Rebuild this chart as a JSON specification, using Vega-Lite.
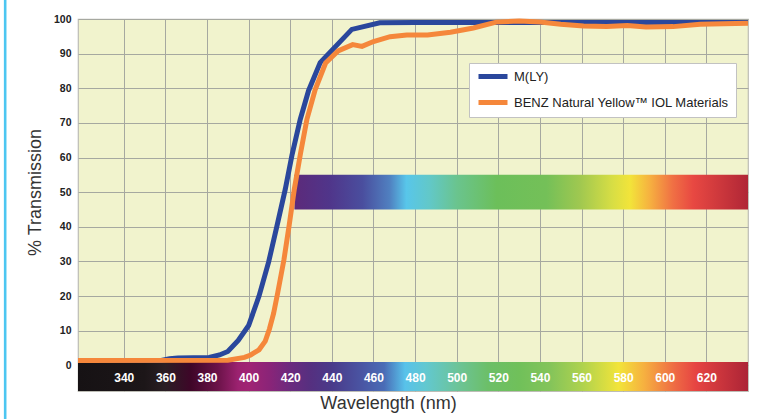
{
  "$schema": "https://vega.github.io/schema/vega-lite/v6.json",
  "width": 670,
  "height": 372,
  "autosize": {"type": "none"},
  "padding": {"left": 78, "top": 19, "right": 17, "bottom": 28},
  "background": "white",
  "config": {
    "font": "Liberation Sans",
    "view": {"fill": "#f1f3cd", "stroke": "#bdbdb5", "strokeWidth": 1.2},
    "axisY": {
      "values": [0, 10, 20, 30, 40, 50, 60, 70, 80, 90, 100],
      "grid": true, "gridColor": "#a6a8a0", "gridWidth": 1,
      "domain": false, "ticks": false,
      "labelFontWeight": "bold", "labelFontSize": 10.5, "labelColor": "#222222",
      "labelPadding": 7, "labelFlush": false,
      "titleFontSize": 18, "titleFontWeight": "normal",
      "titleColor": "#333333", "titleX": -43, "titleY": 173, "titleAngle": -90,
      "titleBaseline": "middle", "titleAlign": "center",
      "zindex": 0
    }
  },
  "datasets": {
    "curves": [
      {"series": "M(LY)", "wl": 318, "T": 1.4},
      {"series": "M(LY)", "wl": 358, "T": 1.4},
      {"series": "M(LY)", "wl": 362, "T": 1.9},
      {"series": "M(LY)", "wl": 366, "T": 2.1},
      {"series": "M(LY)", "wl": 381, "T": 2.3},
      {"series": "M(LY)", "wl": 386, "T": 3.0},
      {"series": "M(LY)", "wl": 390, "T": 4.0},
      {"series": "M(LY)", "wl": 395, "T": 7.2},
      {"series": "M(LY)", "wl": 400, "T": 11.5},
      {"series": "M(LY)", "wl": 405, "T": 20},
      {"series": "M(LY)", "wl": 409.6, "T": 29.8},
      {"series": "M(LY)", "wl": 413.6, "T": 40.2},
      {"series": "M(LY)", "wl": 417.6, "T": 50.8},
      {"series": "M(LY)", "wl": 420.8, "T": 60.6},
      {"series": "M(LY)", "wl": 424.8, "T": 71},
      {"series": "M(LY)", "wl": 428.8, "T": 79.3},
      {"series": "M(LY)", "wl": 434.4, "T": 87.4},
      {"series": "M(LY)", "wl": 449.6, "T": 97},
      {"series": "M(LY)", "wl": 463, "T": 98.9},
      {"series": "M(LY)", "wl": 480, "T": 99},
      {"series": "M(LY)", "wl": 640, "T": 99},
      {"series": "BENZ Natural Yellow™ IOL Materials", "wl": 318, "T": 1.4},
      {"series": "BENZ Natural Yellow™ IOL Materials", "wl": 390, "T": 1.5},
      {"series": "BENZ Natural Yellow™ IOL Materials", "wl": 398, "T": 2.3},
      {"series": "BENZ Natural Yellow™ IOL Materials", "wl": 401, "T": 3},
      {"series": "BENZ Natural Yellow™ IOL Materials", "wl": 405, "T": 4.5},
      {"series": "BENZ Natural Yellow™ IOL Materials", "wl": 408, "T": 7},
      {"series": "BENZ Natural Yellow™ IOL Materials", "wl": 410, "T": 10.5},
      {"series": "BENZ Natural Yellow™ IOL Materials", "wl": 412, "T": 15},
      {"series": "BENZ Natural Yellow™ IOL Materials", "wl": 414, "T": 21},
      {"series": "BENZ Natural Yellow™ IOL Materials", "wl": 417, "T": 30.6},
      {"series": "BENZ Natural Yellow™ IOL Materials", "wl": 419.5, "T": 40.5},
      {"series": "BENZ Natural Yellow™ IOL Materials", "wl": 422, "T": 51},
      {"series": "BENZ Natural Yellow™ IOL Materials", "wl": 425, "T": 61.4},
      {"series": "BENZ Natural Yellow™ IOL Materials", "wl": 428, "T": 71},
      {"series": "BENZ Natural Yellow™ IOL Materials", "wl": 432, "T": 79.6},
      {"series": "BENZ Natural Yellow™ IOL Materials", "wl": 437, "T": 87.3},
      {"series": "BENZ Natural Yellow™ IOL Materials", "wl": 443, "T": 90.8},
      {"series": "BENZ Natural Yellow™ IOL Materials", "wl": 450, "T": 92.6},
      {"series": "BENZ Natural Yellow™ IOL Materials", "wl": 454.5, "T": 92.1},
      {"series": "BENZ Natural Yellow™ IOL Materials", "wl": 460, "T": 93.5},
      {"series": "BENZ Natural Yellow™ IOL Materials", "wl": 468, "T": 94.9},
      {"series": "BENZ Natural Yellow™ IOL Materials", "wl": 476, "T": 95.4},
      {"series": "BENZ Natural Yellow™ IOL Materials", "wl": 486, "T": 95.4},
      {"series": "BENZ Natural Yellow™ IOL Materials", "wl": 497, "T": 96.2},
      {"series": "BENZ Natural Yellow™ IOL Materials", "wl": 508, "T": 97.4},
      {"series": "BENZ Natural Yellow™ IOL Materials", "wl": 519, "T": 99.1},
      {"series": "BENZ Natural Yellow™ IOL Materials", "wl": 530, "T": 99.4},
      {"series": "BENZ Natural Yellow™ IOL Materials", "wl": 540, "T": 99.1},
      {"series": "BENZ Natural Yellow™ IOL Materials", "wl": 550, "T": 98.5},
      {"series": "BENZ Natural Yellow™ IOL Materials", "wl": 561, "T": 98},
      {"series": "BENZ Natural Yellow™ IOL Materials", "wl": 572, "T": 97.8},
      {"series": "BENZ Natural Yellow™ IOL Materials", "wl": 582, "T": 98.1},
      {"series": "BENZ Natural Yellow™ IOL Materials", "wl": 591, "T": 97.7},
      {"series": "BENZ Natural Yellow™ IOL Materials", "wl": 604, "T": 97.8},
      {"series": "BENZ Natural Yellow™ IOL Materials", "wl": 617, "T": 98.5},
      {"series": "BENZ Natural Yellow™ IOL Materials", "wl": 628, "T": 98.6},
      {"series": "BENZ Natural Yellow™ IOL Materials", "wl": 640, "T": 98.8}
    ],
    "bands": [
      {"band": "axis", "x0": 318, "x1": 640, "y0": -7.4, "y1": 1},
      {"band": "spectrum", "x0": 422, "x1": 640, "y0": 45, "y1": 55}
    ],
    "frame": [{"xpos": 283, "ytop": 105.5, "ybot": -15.5}]
  },
  "layer": [
    {
      "data": {"name": "bands"},
      "transform": [{"filter": "datum.band === 'axis'"}],
      "mark": {
        "type": "rect",
        "color": {
          "gradient": "linear", "x1": 0, "y1": 0, "x2": 1, "y2": 0,
          "stops": [
            {"offset": 0, "color": "#161214"},
            {"offset": 0.099, "color": "#1c1618"},
            {"offset": 0.13, "color": "#2a1e24"},
            {"offset": 0.168, "color": "#3e0628"},
            {"offset": 0.208, "color": "#6a1248"},
            {"offset": 0.239, "color": "#9c2270"},
            {"offset": 0.255, "color": "#a02474"},
            {"offset": 0.286, "color": "#8a2478"},
            {"offset": 0.317, "color": "#6b2a7e"},
            {"offset": 0.348, "color": "#553080"},
            {"offset": 0.379, "color": "#4a3a8a"},
            {"offset": 0.425, "color": "#4a56a4"},
            {"offset": 0.457, "color": "#4a6cb6"},
            {"offset": 0.488, "color": "#58c2ea"},
            {"offset": 0.519, "color": "#62c8d0"},
            {"offset": 0.565, "color": "#6cc49a"},
            {"offset": 0.612, "color": "#6cbf68"},
            {"offset": 0.658, "color": "#70c05a"},
            {"offset": 0.705, "color": "#84c45a"},
            {"offset": 0.752, "color": "#aed24e"},
            {"offset": 0.807, "color": "#f2e43a"},
            {"offset": 0.845, "color": "#f6b040"},
            {"offset": 0.891, "color": "#ee6a44"},
            {"offset": 0.922, "color": "#e64442"},
            {"offset": 1, "color": "#ac2436"}
          ]
        }
      },
      "encoding": {
        "x": {
          "field": "x0", "type": "quantitative",
          "scale": {"domain": [318, 640], "nice": false},
          "axis": {
            "orient": "bottom",
            "values": [340, 360, 380, 400, 420, 440, 460, 480, 500, 520, 540, 560, 580, 600, 620],
            "grid": false, "domain": false, "ticks": false,
            "labelColor": "white", "labelFontWeight": "bold", "labelFontSize": 12,
            "labelPadding": -13.5, "labelBaseline": "middle", "labelFlush": false,
            "zindex": 1,
            "title": "Wavelength (nm)", "titleFontSize": 18, "titleFontWeight": "normal",
            "titleColor": "#333333", "titleX": 310, "titleY": 12,
            "titleBaseline": "middle", "titleAlign": "center"
          }
        },
        "x2": {"field": "x1"},
        "y": {
          "field": "y0", "type": "quantitative",
          "scale": {"domain": [-7.4, 100], "nice": false},
          "axis": {"title": "% Transmission"}
        },
        "y2": {"field": "y1"}
      }
    },
    {
      "data": {"name": "bands"},
      "transform": [{"filter": "datum.band === 'spectrum'"}],
      "mark": {
        "type": "rect",
        "color": {
          "gradient": "linear", "x1": 0, "y1": 0, "x2": 1, "y2": 0,
          "stops": [
            {"offset": 0, "color": "#5c2a7a"},
            {"offset": 0.077, "color": "#50358a"},
            {"offset": 0.15, "color": "#4a4e9e"},
            {"offset": 0.21, "color": "#5080c0"},
            {"offset": 0.247, "color": "#58c6ea"},
            {"offset": 0.298, "color": "#62c8c8"},
            {"offset": 0.358, "color": "#6ac48e"},
            {"offset": 0.446, "color": "#6cbf5a"},
            {"offset": 0.556, "color": "#74c058"},
            {"offset": 0.63, "color": "#a0c850"},
            {"offset": 0.702, "color": "#d8de44"},
            {"offset": 0.74, "color": "#f2e43a"},
            {"offset": 0.784, "color": "#f6b040"},
            {"offset": 0.834, "color": "#f07044"},
            {"offset": 0.879, "color": "#e84842"},
            {"offset": 1, "color": "#b02636"}
          ]
        }
      },
      "encoding": {
        "x": {"field": "x0", "type": "quantitative", "axis": null},
        "x2": {"field": "x1"},
        "y": {"field": "y0", "type": "quantitative", "axis": {"title": "% Transmission"}},
        "y2": {"field": "y1"}
      }
    },
    {
      "data": {"name": "curves"},
      "mark": {"type": "line", "strokeWidth": 5},
      "encoding": {
        "x": {
          "field": "wl", "type": "quantitative",
          "axis": {
            "orient": "top",
            "values": [340, 360, 380, 400, 420, 440, 460, 480, 500, 520, 540, 560, 580, 600, 620],
            "grid": true, "gridColor": "#a6a8a0", "gridWidth": 1,
            "labels": false, "ticks": false, "domain": false, "title": null, "zindex": 0
          }
        },
        "y": {"field": "T", "type": "quantitative", "axis": {"title": "% Transmission"}},
        "color": {
          "field": "series", "type": "nominal",
          "scale": {
            "domain": ["M(LY)", "BENZ Natural Yellow™ IOL Materials"],
            "range": ["#2a479c", "#f5873b"]
          },
          "legend": {
            "orient": "none", "legendX": 391, "legendY": 44,
            "title": null, "fillColor": "white", "strokeColor": "#c2c2c2",
            "padding": 7, "symbolType": "stroke", "symbolStrokeWidth": 5,
            "symbolSize": 841, "clipHeight": 13, "rowPadding": 12,
            "labelFontSize": 13, "labelColor": "#222222", "labelOffset": 4,
            "labelLimit": 400
          }
        }
      }
    },
    {
      "data": {"name": "frame"},
      "mark": {"type": "rule", "color": "#4cc6f1", "strokeWidth": 2.6},
      "encoding": {
        "x": {"field": "xpos", "type": "quantitative", "axis": null},
        "y": {"field": "ytop", "type": "quantitative", "axis": {"title": "% Transmission"}},
        "y2": {"field": "ybot"}
      }
    }
  ],
  "resolve": {"axis": {"x": "independent"}}
}
